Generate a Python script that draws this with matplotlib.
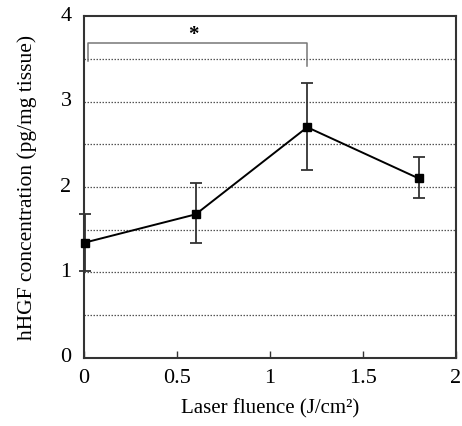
import matplotlib
matplotlib.use("Agg")
import matplotlib.pyplot as plt
import numpy as np

# data
fluence = [0.005, 0.6, 1.2, 1.8]
hgf = [1.35, 1.68, 2.70, 2.10]
err_lo = [0.33, 0.33, 0.50, 0.23]
err_hi = [0.33, 0.37, 0.52, 0.25]

xticks = [0, 0.5, 1, 1.5, 2]
xticklabels = ["0", "0.5", "1", "1.5", "2"]
yticks = [0, 1, 2, 3, 4]
grid_levels = [0.5, 1.0, 1.5, 2.0, 2.5, 3.0, 3.5]

# significance bracket between first and third group
sig_pair = (0.02, 1.2)
sig_y = 3.69
sig_legs = (3.47, 3.42)

plt.rcParams['font.family'] = ['Liberation Serif', 'DejaVu Serif']

fig = plt.figure(figsize=(4.62, 4.26), dpi=100)
ax = fig.add_axes([0.182, 0.160, 0.805, 0.802])

for g in grid_levels:
    ax.axhline(g, color="#555555", lw=0.9, ls=(0, (1.2, 1.2)), zorder=1)

ax.errorbar(fluence, hgf, yerr=[err_lo, err_hi], fmt="none", ecolor="#333333",
            elinewidth=1.3, capsize=4.5, capthick=1.3, zorder=2, clip_on=False)
ax.plot(fluence, hgf, color="black", lw=1.4, marker="s", ms=6.2,
        mfc="black", mec="black", zorder=3, clip_on=False)

x0, x1 = sig_pair
ax.plot([x0, x0, x1, x1], [sig_legs[0], sig_y, sig_y, sig_legs[1]],
        color="#777777", lw=1.1, zorder=2)
ax.text((x0 + x1) / 2 - 0.02, sig_y + 0.09, "*", ha="center", va="center",
        fontsize=15, fontweight="bold")

ax.set_xlim(0, 2)
ax.set_ylim(0, 4)
ax.set_xticks(xticks)
ax.set_xticklabels(xticklabels)
ax.set_yticks(yticks)
ax.tick_params(axis="x", direction="in", length=5, width=1, color="#333333",
               labelsize=16, pad=8)
ax.tick_params(axis="y", length=0, labelsize=16, pad=9)
for lab in ax.get_yticklabels():
    lab.set_va("center")

for s in ax.spines.values():
    s.set_linewidth(1.5)
    s.set_color("#333333")

ax.set_xlabel("Laser fluence (J/cm²)", fontsize=15, labelpad=8)
ax.set_ylabel("hHGF concentration (pg/mg tissue)", fontsize=15.5, labelpad=17)

fig.savefig("out.png", dpi=100)
